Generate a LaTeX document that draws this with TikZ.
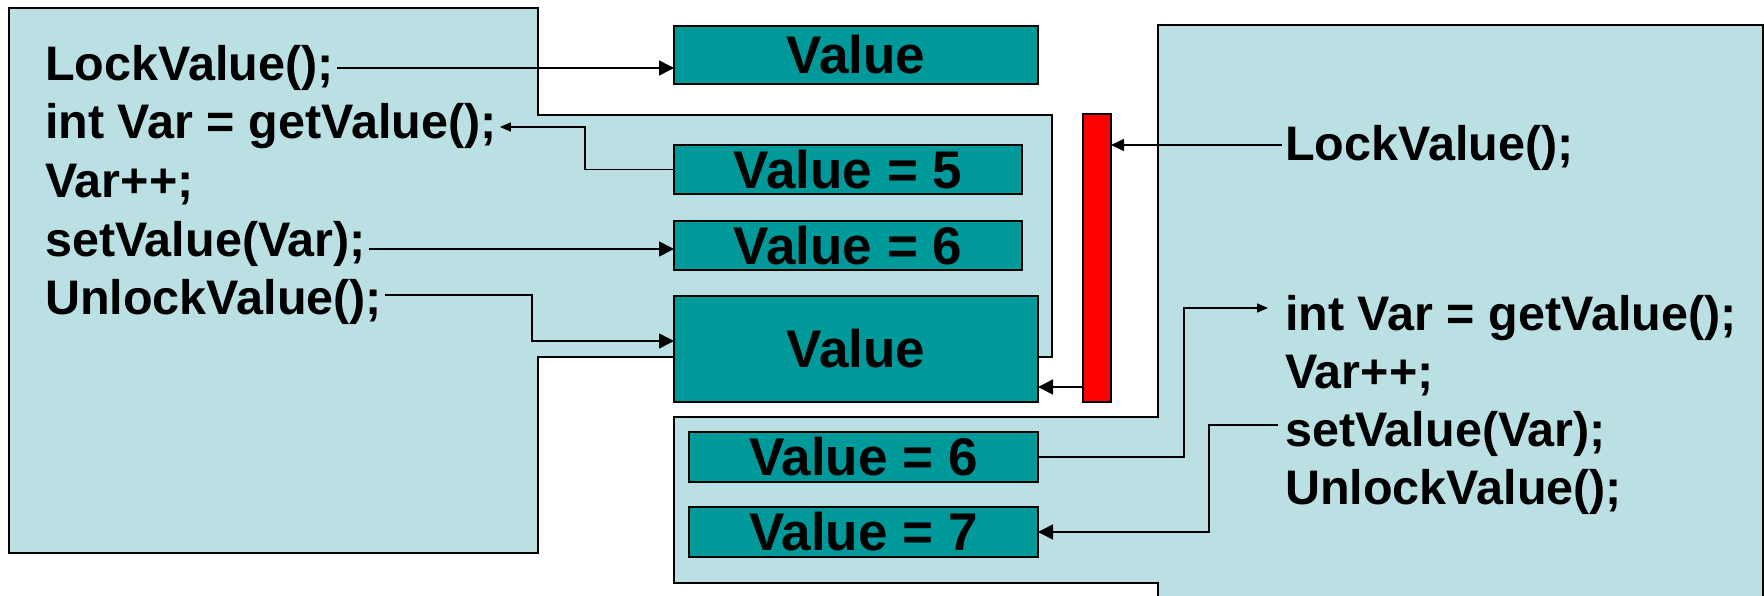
\documentclass[tikz,border=0pt]{standalone}
\usepackage{fontspec}
\setmainfont{Liberation Sans}
\usetikzlibrary{arrows.meta}
\definecolor{pale}{HTML}{BBE0E3}
\definecolor{tealbox}{HTML}{009999}
\begin{document}
\begin{tikzpicture}[x=1pt,y=-1pt,
  region/.style={fill=pale,draw=black,line width=1.8pt},
  valbox/.style={draw=black,fill=tealbox,line width=1.8pt,inner sep=0pt,outer sep=0pt,anchor=north west,font=\fontsize{53}{60}\selectfont\bfseries},
  code/.style={inner xsep=3pt,inner ysep=0pt,anchor=base west,font=\fontsize{48.5}{56}\selectfont\bfseries},
  conn/.style={line width=1.6pt},
  bigtip/.style={-{Triangle[length=15pt,width=15pt]}},
  midtip/.style={-{Triangle[length=13pt,width=12pt]}},
  smalltip/.style={-{Triangle[length=11pt,width=9pt]}}
]
\useasboundingbox (0,0) rectangle (1764,595);
\clip (0,0) rectangle (1764,595);
% background regions
\draw[region] (9,8) -- (538,8) -- (538,115) -- (1052,115) -- (1052,357) -- (538,357) -- (538,553) -- (9,553) -- cycle;
\draw[region] (1158,25) -- (1763,25) -- (1763,610) -- (1158,610) -- (1158,583) -- (674,583) -- (674,417) -- (1158,417) -- cycle;
% value boxes
\node[valbox,minimum width=364pt,minimum height=58pt] (valTop) at (674,26) {Value};
\node[valbox,minimum width=348pt,minimum height=49pt] (val5) at (674,145) {Value = 5};
\node[valbox,minimum width=348pt,minimum height=49pt] (val6) at (674,221) {Value = 6};
\node[valbox,minimum width=364pt,minimum height=106pt] (valBig) at (674,296) {Value};
\node[valbox,minimum width=349pt,minimum height=50pt] (val6b) at (689,432) {Value = 6};
\node[valbox,minimum width=349pt,minimum height=50pt] (val7) at (689,507) {Value = 7};
% lock bar
\node[draw=black,fill=red,line width=1.8pt,inner sep=0pt,outer sep=0pt,anchor=north west,minimum width=28pt,minimum height=288pt] (lock) at (1083,114) {};
% left code
\node[code] (lockL) at (42,80) {LockValue();};
\node[code] (intL) at (42,138) {int Var = getValue();};
\node[code] (incL) at (42,197) {Var++;};
\node[code] (setL) at (42,256) {setValue(Var);};
\node[code] (unlockL) at (42,314) {UnlockValue();};
% right code
\node[code] (lockR) at (1282,160) {LockValue();};
\node[code] (intR) at (1282,330) {int Var = getValue();};
\node[code] (incR) at (1282,388) {Var++;};
\node[code] (setR) at (1282,446) {setValue(Var);};
\node[code] (unlockR) at (1282,504) {UnlockValue();};
% connectors
\draw[conn,bigtip] ([yshift=12pt]lockL.base east) -- ([yshift=12pt]lockL.base east -| valTop.west);
\draw[conn,smalltip] (val5.west) -- ++(-89,0) |- ([yshift=11pt]intL.base east);
\draw[conn,bigtip] ([yshift=7pt]setL.base east) -- ([yshift=7pt]setL.base east -| val6.west);
\draw[conn,bigtip] ([yshift=19pt]unlockL.base east) -- ++(147,0) |- ([yshift=8pt]valBig.west);
\draw[conn,midtip] ([yshift=15pt]lockR.base west) -- ([yshift=15pt]lockR.base west -| lock.east);
\draw[conn,bigtip] ([yshift=-129pt]lock.west) -- ([yshift=-129pt]lock.west -| valBig.east);
\draw[conn,smalltip] (val6b.east) -- ++(146,0) |- ([xshift=-14pt,yshift=22pt]intR.base west);
\draw[conn,bigtip] ([xshift=-4pt,yshift=21pt]setR.base west) -- ++(-69,0) |- (val7.east);
\end{tikzpicture}
\end{document}
